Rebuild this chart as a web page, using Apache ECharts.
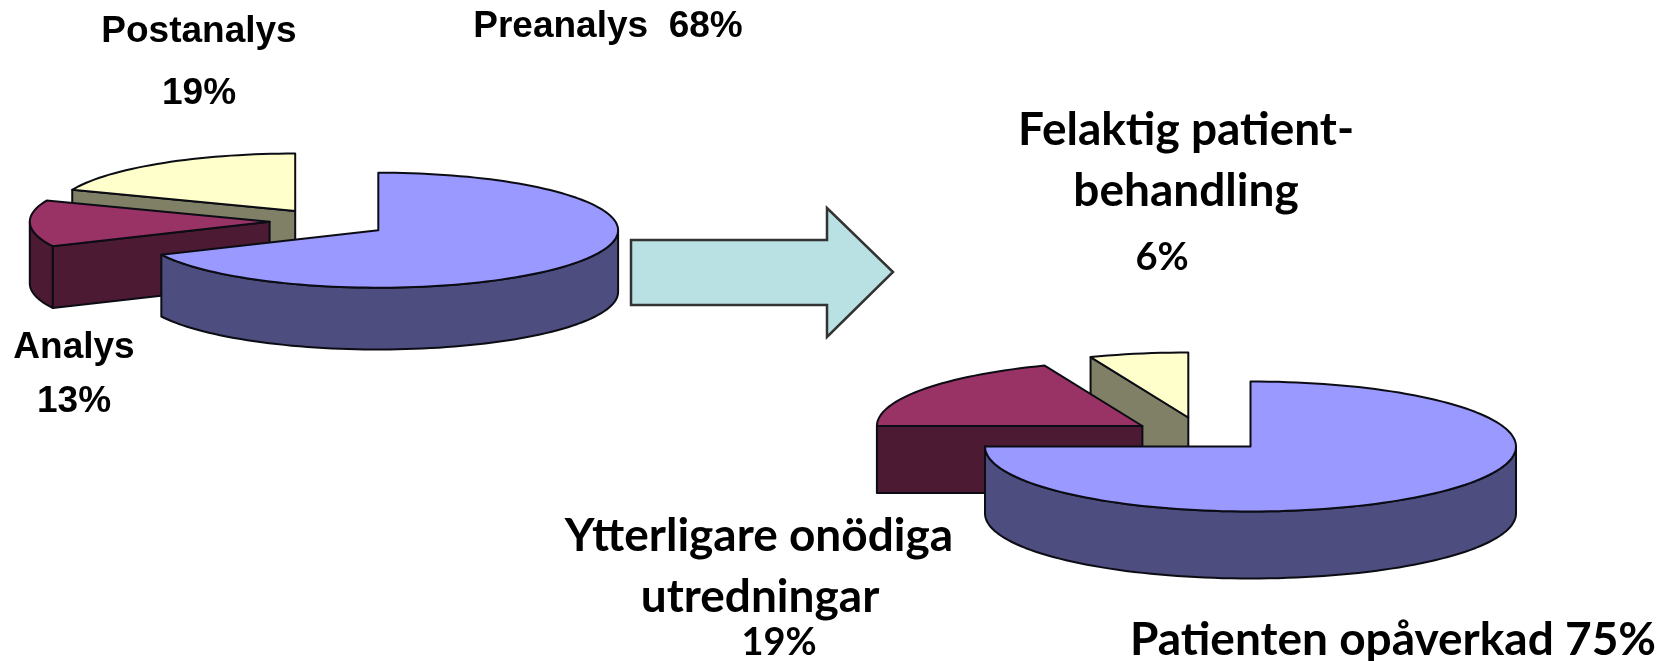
<!DOCTYPE html>
<html>
<head>
<meta charset="utf-8">
<title>Preanalys</title>
<script src="https://cdn.jsdelivr.net/npm/echarts@6/dist/echarts.min.js"></script>
<style>
	body { margin: 0; background: #fff; }
	#main { width: 1671px; height: 661px; }
</style>
</head>
<body>
	<div id="main"></div>
	<script type="text/javascript">
		// andel fel per fas
		var phaseNames = ['Preanalys', 'Analys', 'Postanalys'];
		var phaseValues = [68, 13, 19];
		// konsekvenser
		var effectNames = ['Patienten opåverkad', 'Ytterligare onödiga', 'Felaktig patient-'];
		var effectNames2 = ['', 'utredningar', 'behandling'];
		var effectValues = [75, 19, 6];

		var topColors = ['#9999ff', '#993366', '#ffffcc'];
		var sideColors = ['#4d4d80', '#4d1a33', '#808066'];
		var lineColor = '#0c0c14';

		var myChart = echarts.init(document.getElementById('main'));

		// punkt på ellipsen, vinkel i grader medurs från kl 12
		function rim(p, deg, drop) {
			var a = deg * Math.PI / 180;
			return [p.x + p.rx * Math.sin(a), p.y - p.ry * Math.cos(a) + (drop || 0)];
		}

		function arc(p, from, to, drop) {
			var pts = [];
			var n = Math.max(2, Math.ceil(Math.abs(to - from) / 2));
			for (var i = 0; i <= n; i++) {
				pts.push(rim(p, from + (to - from) * i / n, drop));
			}
			return pts;
		}

		function poly(points, fill, z) {
			return {
				type: 'polygon',
				z2: z,
				shape: { points: points },
				style: { fill: fill, stroke: lineColor, lineWidth: 2, lineJoin: 'round' }
			};
		}

		function pieSeries(values, anchors, rx, ry, depth) {
			var total = 0;
			var starts = [];
			for (var i = 0; i < values.length; i++) {
				starts.push(total);
				total += values[i];
			}
			return {
				type: 'custom',
				coordinateSystem: 'none',
				silent: true,
				animation: false,
				data: values.map(function (v, i) { return [v, starts[i]]; }),
				renderItem: function (params, api) {
					var i = params.dataIndex;
					var from = api.value(1) / total * 360;
					var to = from + api.value(0) / total * 360;
					var p = { x: anchors[i][0], y: anchors[i][1], rx: rx, ry: ry };
					var c = [p.x, p.y];
					var low = [p.x, p.y + depth];
					var z = (values.length - i) * 10;
					var kids = [];
					// sidor som vänder sig mot betraktaren
					if (from > 180 && from < 360) {
						kids.push(poly([c, rim(p, from), rim(p, from, depth), low], sideColors[i], z));
					}
					if (to > 0 && to < 180) {
						kids.push(poly([c, rim(p, to), rim(p, to, depth), low], sideColors[i], z));
					}
					var a = Math.max(from, 90);
					var b = Math.min(to, 270);
					if (b > a) {
						kids.push(poly(arc(p, a, b, 0).concat(arc(p, b, a, depth)), sideColors[i], z + 1));
					}
					kids.push(poly([c].concat(arc(p, from, to, 0)), topColors[i], z + 2));
					return { type: 'group', children: kids };
				}
			};
		}

		function label(text, x, y, font, size) {
			return {
				type: 'text',
				x: x,
				y: y,
				style: {
					text: text,
					fill: '#000',
					align: 'center',
					verticalAlign: 'middle',
					font: 'bold ' + size + 'px ' + font
				}
			};
		}

		var arial = '"Liberation Sans"';
		var calibri = 'Lato';

		myChart.setOption({
			animation: false,
			series: [
				pieSeries(phaseValues, [[378.3, 230.2], [269.6, 221.7], [295.2, 211]], 239.8, 57.5, 61.8),
				pieSeries(effectValues, [[1250.5, 446.5], [1142.4, 426], [1188.3, 417.5]], 265.5, 65, 67)
			],
			graphic: [
				{
					type: 'polygon',
					shape: { points: [[631, 240], [827, 240], [827, 208], [893, 272], [827, 337], [827, 305], [631, 305]] },
					style: { fill: '#b9e0e2', stroke: '#333', lineWidth: 2.5 }
				},
				label(phaseNames[2], 199, 32, arial, 37),
				label(phaseValues[2] + '%', 199, 94, arial, 37),
				label(phaseNames[0] + '  ' + phaseValues[0] + '%', 608, 27, arial, 37),
				label(phaseNames[1], 74, 348, arial, 37),
				label(phaseValues[1] + '%', 74, 402, arial, 37),
				label(effectNames[2], 1186, 130, calibri, 46),
				label(effectNames2[2], 1186, 191, calibri, 46),
				label(effectValues[2] + '%', 1162, 258, calibri, 38),
				label(effectNames[1], 759, 536, calibri, 46),
				label(effectNames2[1], 760, 597, calibri, 46),
				label(effectValues[1] + '%', 779, 643, calibri, 38),
				label(effectNames[0] + ' ' + effectValues[0] + '%', 1393, 640, calibri, 46)
			]
		});
	</script>
</body>
</html>
